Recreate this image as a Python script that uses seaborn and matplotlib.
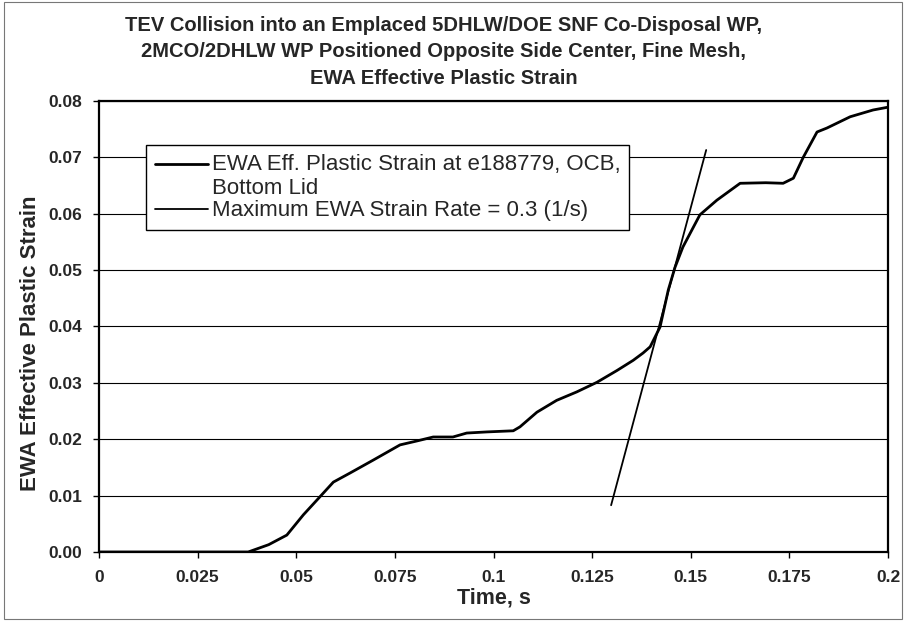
import numpy as np
import pandas as pd
import matplotlib
matplotlib.use("Agg")
import matplotlib.pyplot as plt
from matplotlib.patches import Rectangle
from matplotlib.legend_handler import HandlerLine2D
import seaborn as sns

# EWA effective plastic strain curve
time_s = [0.0, 0.010, 0.020, 0.030, 0.0378, 0.0430, 0.0476, 0.0518, 0.0560,
          0.0594, 0.0636, 0.0695, 0.0763, 0.0806, 0.0847, 0.0897, 0.0932,
          0.0983, 0.1050, 0.1067, 0.1110, 0.1160, 0.1211, 0.1262, 0.1313,
          0.1354, 0.1379, 0.1397, 0.1422, 0.1443, 0.1460, 0.1480, 0.1523,
          0.1566, 0.1625, 0.1690, 0.1734, 0.1760, 0.1785, 0.1820, 0.1845,
          0.1904, 0.1962, 0.2000]
strain = [0.0, 0.0, 0.0, 0.0, 0.0, 0.0013, 0.0030, 0.0066, 0.0098,
          0.0124, 0.0140, 0.0163, 0.0190, 0.0197, 0.0204, 0.0204, 0.0211,
          0.0213, 0.0215, 0.0222, 0.0248, 0.0269, 0.0284, 0.0301, 0.0322,
          0.0340, 0.0353, 0.0364, 0.0399, 0.0465, 0.0505, 0.0541, 0.0598,
          0.0624, 0.0654, 0.0655, 0.0654, 0.0663, 0.0700, 0.0745, 0.0752,
          0.0772, 0.0784, 0.0789]

# maximum strain rate line (two end points)
rate_time = [0.1298, 0.1539]
rate_strain = [0.0083, 0.0713]

curve_label = "EWA Eff. Plastic Strain at e188779, OCB,\nBottom Lid"
rate_label = "Maximum EWA Strain Rate = 0.3 (1/s)"
x_ticks = [0, 0.025, 0.05, 0.075, 0.1, 0.125, 0.15, 0.175, 0.2]
x_tick_labels = ["0", "0.025", "0.05", "0.075", "0.1", "0.125", "0.15", "0.175", "0.2"]
y_ticks = [0.0, 0.01, 0.02, 0.03, 0.04, 0.05, 0.06, 0.07, 0.08]


class FirstLineHandler(HandlerLine2D):
	# put the legend line next to the first text line, like Excel does
	def create_artists(self, legend, orig_handle, xdescent, ydescent, width, height,
					   fontsize, trans):
		arts = super().create_artists(legend, orig_handle, xdescent, ydescent, width,
									  height, fontsize, trans)
		for a in arts:
			y = a.get_ydata()
			a.set_ydata([v + 0.6 * fontsize for v in y])
		return arts


def main():
	sns.set_style("white")
	plt.rcParams['font.family'] = ['Liberation Sans', 'DejaVu Sans']

	fig = plt.figure(figsize=(9.06, 6.21), dpi=100)
	ax = fig.add_axes([0.1093, 0.1111, 0.8709, 0.7263])

	df1 = pd.DataFrame({"t": time_s, "s": strain})
	df2 = pd.DataFrame({"t": rate_time, "s": rate_strain})
	sns.lineplot(data=df1, x="t", y="s", ax=ax, color="black", lw=2.0,
				 sort=False, label=curve_label)
	sns.lineplot(data=df2, x="t", y="s", ax=ax, color="black", lw=1.3,
				 sort=False, label=rate_label)

	ax.set_xlim(0, 0.2)
	ax.set_ylim(0, 0.08)
	ax.set_xticks(x_ticks)
	ax.set_xticklabels(x_tick_labels)
	ax.set_yticks(y_ticks)
	ax.set_yticklabels([f"{v:.2f}" for v in y_ticks])
	for lab in ax.get_xticklabels() + ax.get_yticklabels():
		lab.set_fontweight("bold")
		lab.set_fontsize(12.5)

	# horizontal gridlines only
	ax.yaxis.grid(True, color="black", lw=0.8)
	ax.xaxis.grid(False)
	ax.set_axisbelow(True)
	for sp in ax.spines.values():
		sp.set_color("black")
		sp.set_linewidth(1.6)
	ax.tick_params(axis="x", direction="out", length=4, width=1, color="black",
				   bottom=True, pad=9)
	ax.tick_params(axis="y", direction="out", length=4, width=1, color="black",
				   left=True, pad=8)

	ax.set_xlabel("Time, s", fontsize=15.5, fontweight="bold")
	ax.xaxis.set_label_coords(0.5, -0.078)
	ax.set_ylabel("EWA Effective Plastic Strain", fontsize=16, fontweight="bold")
	ax.yaxis.set_label_coords(-0.073, 0.463)

	fig.text(0.49, 0.975, "TEV Collision into an Emplaced 5DHLW/DOE SNF Co-Disposal WP,\n"
			 "2MCO/2DHLW WP Positioned Opposite Side Center, Fine Mesh,\n"
			 "EWA Effective Plastic Strain", ha="center", va="top",
			 fontsize=14.5, fontweight="bold", linespacing=1.5)

	handles, labels = ax.get_legend_handles_labels()
	leg = ax.legend(handles, labels, loc="upper left", bbox_to_anchor=(0.0596, 0.902),
					fontsize=16, frameon=True, fancybox=False, framealpha=1,
					edgecolor="black", handlelength=2.4, handletextpad=0.15,
					borderpad=0.4, labelspacing=0.05, borderaxespad=0,
					handler_map={handles[0]: FirstLineHandler()})
	leg.get_frame().set_linewidth(1.0)

	# thin outer border of the chart area
	fig.patches.append(Rectangle((0.004, 0.004), 0.992, 0.992, transform=fig.transFigure,
								 fill=False, edgecolor="#777777", lw=0.8))

	plt.savefig("out.png", dpi=100)


if __name__ == '__main__':
	main()
